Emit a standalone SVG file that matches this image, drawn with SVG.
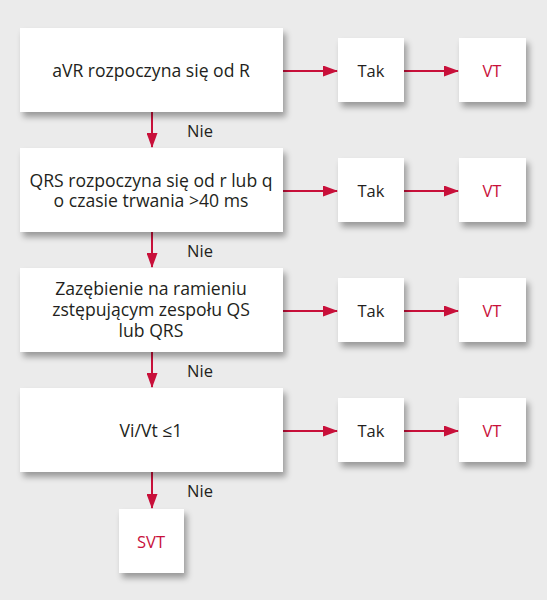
<svg xmlns="http://www.w3.org/2000/svg" width="547" height="600" viewBox="0 0 547 600">
<style>
.box{fill:#ffffff;filter:url(#sh)}
.t{font-family:"Open Sans","Noto Sans",sans-serif;font-size:16.5px;fill:#231f20;text-anchor:middle}
.m{font-size:17.6px}
.r{fill:#c8103a}
.c{stroke:#c8103a;stroke-width:2;fill:none}
</style>
<defs>
<filter id="sh" x="-20%" y="-20%" width="150%" height="160%">
<feGaussianBlur in="SourceAlpha" stdDeviation="3"/>
<feOffset dx="3" dy="5" result="b"/>
<feComponentTransfer><feFuncA type="linear" slope="0.35"/></feComponentTransfer>
<feMerge><feMergeNode/><feMergeNode in="SourceGraphic"/></feMerge>
</filter>
<marker id="ah" markerWidth="15" markerHeight="11" refX="14" refY="5.5" orient="auto" markerUnits="userSpaceOnUse">
<path d="M0,0 L15,5.5 L0,11 Z" fill="#c8103a"/>
</marker>
</defs>
<rect width="547" height="600" fill="#ebebeb"/>
<g id="connectors">
<line class="c" x1="283" y1="71" x2="337" y2="71" marker-end="url(#ah)"/>
<line class="c" x1="404" y1="71" x2="458" y2="71" marker-end="url(#ah)"/>
<line class="c" x1="283" y1="191" x2="337" y2="191" marker-end="url(#ah)"/>
<line class="c" x1="404" y1="191" x2="458" y2="191" marker-end="url(#ah)"/>
<line class="c" x1="283" y1="311" x2="337" y2="311" marker-end="url(#ah)"/>
<line class="c" x1="404" y1="311" x2="458" y2="311" marker-end="url(#ah)"/>
<line class="c" x1="283" y1="431" x2="337" y2="431" marker-end="url(#ah)"/>
<line class="c" x1="404" y1="431" x2="458" y2="431" marker-end="url(#ah)"/>
<line class="c" x1="152" y1="112" x2="152" y2="147" marker-end="url(#ah)"/>
<line class="c" x1="152" y1="232" x2="152" y2="267" marker-end="url(#ah)"/>
<line class="c" x1="152" y1="352" x2="152" y2="387" marker-end="url(#ah)"/>
<line class="c" x1="152" y1="472" x2="152" y2="508" marker-end="url(#ah)"/>
<text class="t" x="200" y="137">Nie</text>
<text class="t" x="200" y="257">Nie</text>
<text class="t" x="200" y="377">Nie</text>
<text class="t" x="200" y="497">Nie</text>
</g>
<g id="q1"><rect class="box" x="20" y="28" width="263" height="84"/><text class="t m" x="151" y="77">aVR rozpoczyna się od R</text></g>
<g id="q2"><rect class="box" x="20" y="148" width="263" height="84"/><text class="t m" x="151" y="187">QRS rozpoczyna się od r lub q</text><text class="t m" x="151" y="207">o czasie trwania &gt;40 ms</text></g>
<g id="q3"><rect class="box" x="20" y="268" width="263" height="84"/><text class="t m" x="151" y="295">Zazębienie na ramieniu</text><text class="t m" x="151" y="316">zstępującym zespołu QS</text><text class="t m" x="151" y="337">lub QRS</text></g>
<g id="q4"><rect class="box" x="20" y="388" width="263" height="84"/><text class="t m" x="151" y="437">Vi/Vt ≤1</text></g>
<g id="tak1"><rect class="box" x="338" y="38" width="66" height="64"/><text class="t" x="371" y="77">Tak</text></g>
<g id="vt1"><rect class="box" x="459" y="38" width="67" height="64"/><text class="t r" x="492" y="77">VT</text></g>
<g id="tak2"><rect class="box" x="338" y="158" width="66" height="64"/><text class="t" x="371" y="197">Tak</text></g>
<g id="vt2"><rect class="box" x="459" y="158" width="67" height="64"/><text class="t r" x="492" y="197">VT</text></g>
<g id="tak3"><rect class="box" x="338" y="278" width="66" height="64"/><text class="t" x="371" y="317">Tak</text></g>
<g id="vt3"><rect class="box" x="459" y="278" width="67" height="64"/><text class="t r" x="492" y="317">VT</text></g>
<g id="tak4"><rect class="box" x="338" y="398" width="66" height="64"/><text class="t" x="371" y="437">Tak</text></g>
<g id="vt4"><rect class="box" x="459" y="398" width="67" height="64"/><text class="t r" x="492" y="437">VT</text></g>
<g id="svt"><rect class="box" x="119" y="509" width="65" height="64"/><text class="t r" x="151" y="548">SVT</text></g>
</svg>
